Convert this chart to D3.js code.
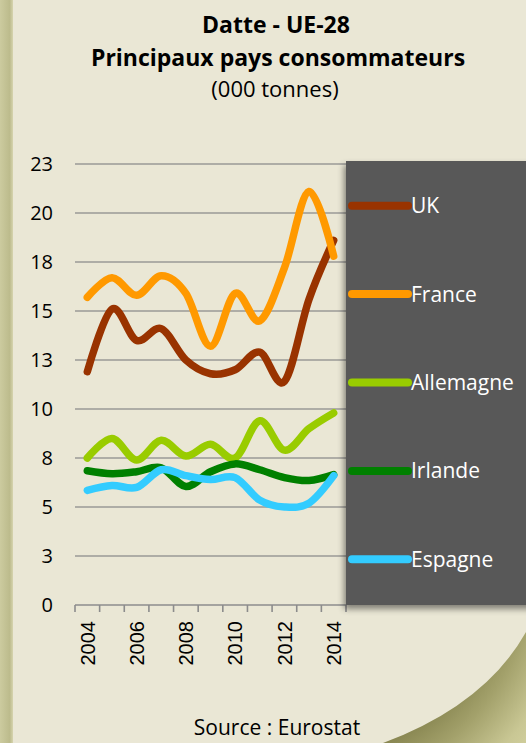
<!DOCTYPE html>
<html>
<head>
<meta charset="utf-8">
<script src="https://cdn.jsdelivr.net/npm/d3@7"></script>
<style>
  html, body { margin: 0; padding: 0; background: #eae7d5; }
  svg { display: block; }
</style>
</head>
<body>
<script>
// Consommation de dattes, principaux pays de l'UE-28 (milliers de tonnes)
const years = [2004, 2005, 2006, 2007, 2008, 2009, 2010, 2011, 2012, 2013, 2014];
const uk        = [11.9, 15.1, 13.5, 14.1, 12.5, 11.8, 12.0, 12.9, 11.4, 15.6, 18.6];
const france    = [15.7, 16.7, 15.8, 16.8, 15.9, 13.2, 15.9, 14.5, 17.2, 21.1, 17.8];
const allemagne = [7.5, 8.5, 7.4, 8.4, 7.6, 8.2, 7.5, 9.4, 7.9, 9.0, 9.8];
const irlande   = [6.85, 6.7, 6.8, 7.0, 6.05, 6.8, 7.2, 6.9, 6.5, 6.35, 6.65];
const espagne   = [5.85, 6.1, 6.0, 6.9, 6.6, 6.4, 6.5, 5.35, 5.0, 5.2, 6.6];
const seriesNames  = ["UK", "France", "Allemagne", "Irlande", "Espagne"];
const seriesColors = ["#993300", "#ff9900", "#99cc00", "#008000", "#33ccff"];
const yTicks = [0, 2.5, 5, 7.5, 10, 12.5, 15, 17.5, 20, 22.5];
const xLabelYears = [2004, 2006, 2008, 2010, 2012, 2014];

const series = [uk, france, allemagne, irlande, espagne].map((vals, i) => ({
  name: seriesNames[i], color: seriesColors[i],
  values: vals.map((v, j) => ({ year: years[j], value: v }))
}));

const W = 526, H = 743;
const svg = d3.select("body").append("svg").attr("width", W).attr("height", H);
const defs = svg.append("defs");

// page background
svg.append("rect").attr("width", W).attr("height", H).attr("fill", "#eae7d5");

// left binding edge
const lg = defs.append("linearGradient").attr("id", "edge").attr("x1", 0).attr("x2", 1);
lg.append("stop").attr("offset", 0).attr("stop-color", "#cccb9f");
lg.append("stop").attr("offset", 0.75).attr("stop-color", "#bcbb8c");
lg.append("stop").attr("offset", 1).attr("stop-color", "#d6d4ae");
svg.append("rect").attr("x", 0).attr("y", 0).attr("width", 13).attr("height", H).attr("fill", "url(#edge)");

// curled corner, bottom right
const rg = defs.append("radialGradient").attr("id", "curl")
  .attr("gradientUnits", "userSpaceOnUse").attr("cx", 300).attr("cy", 560).attr("r", 300);
rg.append("stop").attr("offset", 0.66).attr("stop-color", "#86844f");
rg.append("stop").attr("offset", 0.78).attr("stop-color", "#a3a16b");
rg.append("stop").attr("offset", 0.92).attr("stop-color", "#c9c794");
rg.append("stop").attr("offset", 1).attr("stop-color", "#d3d1a0");
svg.append("path")
  .attr("d", "M383,743 Q485,705 526,632 L526,743 Z")
  .attr("fill", "url(#curl)");

// titles
const title = svg.append("g").attr("text-anchor", "middle").attr("fill", "#000")
  .style("font-family", "'Open Sans', sans-serif");
title.append("text").attr("x", 276).attr("y", 33).style("font-size", "23px").style("font-weight", 700)
  .text("Datte - UE-28");
title.append("text").attr("x", 278).attr("y", 66).style("font-size", "23px").style("font-weight", 700)
  .text("Principaux pays consommateurs");
title.append("text").attr("x", 275).attr("y", 97).style("font-size", "22px")
  .text("(000 tonnes)");

// scales
const x = d3.scaleBand().domain(years).range([75, 346]);
const y = d3.scaleLinear().domain([0, 22.5]).range([605, 164]);

// gridlines
svg.append("g").selectAll("line").data(yTicks.filter(d => d > 0)).join("line")
  .attr("x1", 75).attr("x2", 346)
  .attr("y1", d => y(d)).attr("y2", d => y(d))
  .attr("stroke", "#9a9a96").attr("stroke-width", 1.6);

// y labels
svg.append("g").selectAll("text").data(yTicks).join("text")
  .attr("x", 53).attr("y", d => y(d)).attr("dy", "0.36em")
  .attr("text-anchor", "end")
  .style("font-family", "'Open Sans', sans-serif").style("font-size", "20px")
  .attr("fill", "#000")
  .text(d => d3.format(".0f")(Math.round(d)));

// x axis line and ticks at band edges
const xa = svg.append("g");
xa.append("line").attr("x1", 75).attr("x2", 346).attr("y1", 605).attr("y2", 605)
  .attr("stroke", "#8c8c8c").attr("stroke-width", 1.6);
const edges = years.map(d => x(d)).concat([x(years[years.length - 1]) + x.bandwidth()]);
xa.selectAll("line.tick").data(edges).join("line").attr("class", "tick")
  .attr("x1", d => d).attr("x2", d => d).attr("y1", 605).attr("y2", 612)
  .attr("stroke", "#8c8c8c").attr("stroke-width", 1.6);
xa.selectAll("text").data(xLabelYears).join("text")
  .attr("transform", d => `translate(${x(d) + x.bandwidth() / 2},621) rotate(-90)`)
  .attr("dy", "0.36em").attr("text-anchor", "end")
  .style("font-family", "'Liberation Sans', Arial, sans-serif").style("font-size", "20px")
  .attr("fill", "#000")
  .text(d => d);

// lines
const line = d3.line()
  .x(d => x(d.year) + x.bandwidth() / 2)
  .y(d => y(d.value))
  .curve(d3.curveCardinal.tension(0));
svg.append("g").selectAll("path").data(series).join("path")
  .attr("d", d => line(d.values))
  .attr("fill", "none").attr("stroke", d => d.color)
  .attr("stroke-width", 7.5).attr("stroke-linecap", "round").attr("stroke-linejoin", "round");

// legend panel
const sh = defs.append("filter").attr("id", "shadow").attr("x", -0.2).attr("y", -0.1).attr("width", 1.4).attr("height", 1.2);
sh.append("feDropShadow").attr("dx", -2).attr("dy", 4).attr("stdDeviation", 3)
  .attr("flood-color", "#000").attr("flood-opacity", 0.45);
svg.append("rect").attr("x", 346).attr("y", 161).attr("width", 190).attr("height", 444)
  .attr("fill", "#595959").attr("filter", "url(#shadow)");

const leg = svg.append("g").selectAll("g").data(series).join("g")
  .attr("transform", (d, i) => `translate(0,${205.7 + i * 88.4})`);
leg.append("line").attr("x1", 352).attr("x2", 408).attr("y1", 0).attr("y2", 0)
  .attr("stroke", d => d.color).attr("stroke-width", 8).attr("stroke-linecap", "round");
leg.append("text").attr("x", 411).attr("y", 0).attr("dy", "0.36em")
  .style("font-family", "'Open Sans', sans-serif").style("font-size", "21px")
  .attr("fill", "#fff").text(d => d.name);

// source
svg.append("text").attr("x", 277).attr("y", 735).attr("text-anchor", "middle")
  .style("font-family", "'Open Sans', sans-serif").style("font-size", "21px")
  .attr("fill", "#000").text("Source : Eurostat");
</script>
</body>
</html>
